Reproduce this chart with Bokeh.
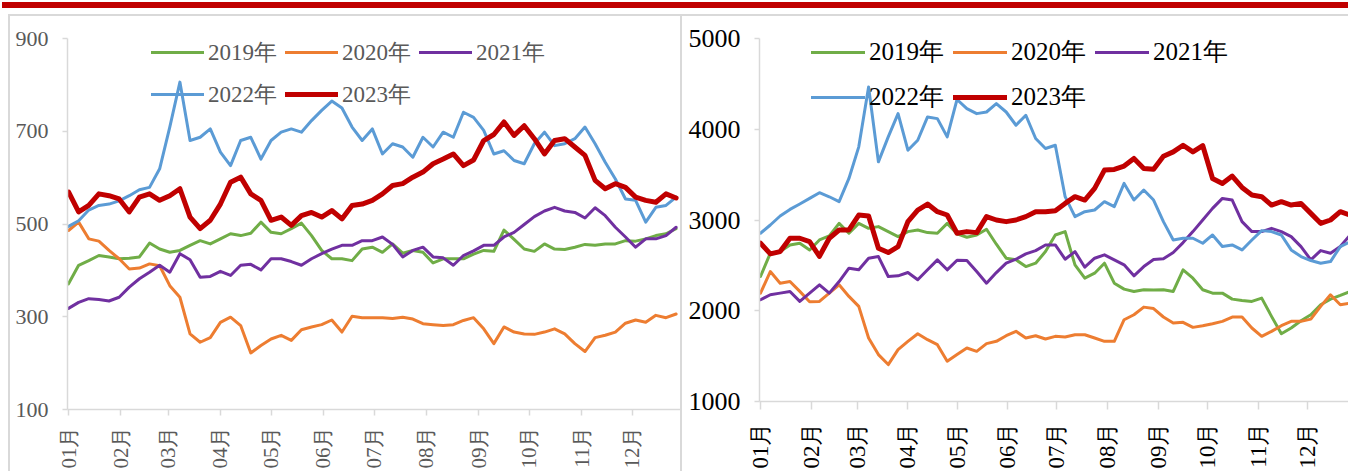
from bokeh.plotting import figure
from bokeh.models import Range1d, FixedTicker, Legend, LegendItem, Div
from bokeh.layouts import row, column
from bokeh.embed import file_html
from bokeh.resources import INLINE

# ---------------- data ----------------
days = [1, 7, 13, 19, 25, 31, 37, 43, 49, 55, 61, 67, 73, 79, 85, 91, 97, 103, 109, 115, 121,
        127, 133, 139, 145, 151, 157, 163, 169, 175, 181, 187, 193, 199, 205, 211, 217, 223, 229, 235, 241,
        247, 253, 259, 265, 271, 277, 283, 289, 295, 301, 307, 313, 319, 325, 331, 337, 343, 349, 355, 361]

month_days = [1, 32, 60, 91, 121, 152, 182, 213, 244, 274, 305, 335]
month_labels = ["01月", "02月", "03月", "04月", "05月", "06月", "07月", "08月", "09月", "10月", "11月", "12月"]

years = ["2019年", "2020年", "2021年", "2022年", "2023年"]
colors = ["#70AD47", "#ED7D31", "#7030A0", "#5B9BD5", "#C00000"]

left_2019 = [371, 411, 421, 432, 429, 425, 426, 429, 459, 446, 439, 443, 454, 464, 457, 468, 479, 475, 480, 504, 482,
             479, 490, 502, 475, 443, 425, 425, 421, 446, 450, 439, 457, 437, 443, 439, 416, 425, 425, 425, 435,
             443, 441, 487, 467, 446, 441, 457, 446, 445, 450, 456, 454, 457, 457, 464, 463, 468, 475, 479, 490]
left_2020 = [486, 504, 468, 463, 443, 425, 403, 405, 414, 410, 367, 342, 263, 245, 255, 288, 299, 281, 222, 238, 252,
             260, 249, 272, 278, 283, 293, 267, 301, 298, 298, 298, 296, 299, 295, 285, 283, 281, 283, 292, 298,
             274, 242, 278, 267, 263, 262, 267, 274, 263, 242, 225, 255, 260, 267, 286, 293, 288, 303, 298, 306]
left_2021 = [318, 331, 339, 337, 334, 342, 364, 382, 396, 411, 396, 436, 423, 385, 387, 398, 389, 411, 413, 401, 425,
             425, 419, 411, 425, 436, 446, 454, 454, 464, 464, 472, 456, 429, 443, 450, 429, 427, 411, 432, 442,
             454, 454, 472, 482, 499, 516, 528, 536, 528, 525, 513, 535, 518, 493, 472, 450, 468, 468, 475, 493]
left_2022 = [495, 507, 530, 540, 543, 550, 561, 574, 579, 619, 709, 806, 680, 687, 705, 655, 626, 680, 687, 640, 680,
             698, 705, 698, 723, 745, 765, 750, 709, 680, 705, 651, 673, 666, 644, 687, 666, 698, 687, 741, 730,
             702, 651, 658, 637, 630, 673, 698, 669, 673, 684, 709, 673, 633, 597, 554, 551, 504, 536, 540, 558]
left_2023 = [569, 526, 540, 565, 561, 554, 526, 558, 565, 551, 561, 576, 515, 490, 508, 543, 590, 601, 565, 551, 508,
             515, 497, 518, 525, 515, 529, 511, 540, 543, 551, 565, 583, 587, 601, 612, 630, 640, 651, 626, 638,
             680, 693, 720, 691, 712, 684, 651, 680, 684, 666, 648, 594, 576, 587, 579, 558, 551, 547, 565, 556]

right_2019 = [2377, 2634, 2652, 2725, 2744, 2670, 2780, 2824, 2963, 2854, 2963, 2908, 2927, 2872, 2817, 2872, 2890, 2861, 2854, 2963, 2848,
              2810, 2835, 2898, 2733, 2579, 2561, 2487, 2524, 2652, 2835, 2872, 2506, 2359, 2414, 2524, 2304, 2238, 2213, 2231, 2228,
              2231, 2213, 2451, 2359, 2231, 2194, 2194, 2128, 2114, 2103, 2139, 1938, 1747, 1810, 1890, 1956, 2066, 2128, 2169, 2213]
right_2020 = [2194, 2432, 2304, 2322, 2213, 2100, 2103, 2194, 2286, 2158, 2048, 1700, 1517, 1407, 1572, 1663, 1747, 1681, 1626, 1443, 1517,
              1590, 1553, 1638, 1663, 1725, 1773, 1700, 1725, 1689, 1718, 1711, 1736, 1736, 1700, 1663, 1663, 1901, 1956, 2040, 2024,
              1931, 1865, 1872, 1817, 1835, 1857, 1883, 1931, 1931, 1810, 1718, 1773, 1835, 1883, 1883, 1908, 2048, 2176, 2066, 2084]
right_2021 = [2121, 2176, 2194, 2212, 2103, 2194, 2286, 2194, 2322, 2469, 2451, 2579, 2597, 2377, 2385, 2421, 2341, 2451, 2561, 2451, 2557,
              2553, 2432, 2304, 2421, 2524, 2568, 2627, 2663, 2725, 2725, 2568, 2652, 2480, 2579, 2616, 2561, 2506, 2385, 2487, 2565,
              2572, 2642, 2751, 2872, 2999, 3128, 3238, 3220, 2982, 2872, 2872, 2908, 2872, 2817, 2707, 2561, 2663, 2634, 2707, 2835]
right_2022 = [2854, 2945, 3044, 3117, 3176, 3238, 3301, 3256, 3202, 3458, 3806, 4465, 3641, 3916, 4172, 3769, 3879, 4136, 4117, 3916, 4328,
              4227, 4172, 4190, 4282, 4190, 4044, 4154, 3898, 3788, 3824, 3257, 3037, 3092, 3110, 3202, 3147, 3403, 3220, 3330, 3220,
              2982, 2780, 2799, 2799, 2744, 2835, 2707, 2725, 2670, 2780, 2883, 2872, 2835, 2670, 2597, 2553, 2524, 2542, 2707, 2760]
right_2023 = [2744, 2627, 2652, 2799, 2799, 2762, 2600, 2799, 2890, 2890, 3055, 3044, 2689, 2641, 2707, 2982, 3110, 3176, 3092, 3055, 2854,
              2872, 2861, 3037, 3000, 2982, 3000, 3037, 3092, 3092, 3103, 3183, 3257, 3220, 3348, 3550, 3557, 3594, 3678, 3568, 3559,
              3703, 3751, 3824, 3751, 3820, 3458, 3403, 3484, 3359, 3275, 3257, 3165, 3202, 3165, 3183, 3073, 2963, 3000, 3092, 3055]

left_series = [left_2019, left_2020, left_2021, left_2022, left_2023]
right_series = [right_2019, right_2020, right_2021, right_2022, right_2023]
left_yticks = [100, 300, 500, 700, 900]
right_yticks = [1000, 2000, 3000, 4000, 5000]

FONT = "Liberation Serif"
TOP_H = 16
FIG_H = 471 - TOP_H


def make_panel(series, width, border_left, border_bottom, x_end, y_lo, y_hi, yticks, tick_size, x_size,
               text_color, legend_size, leg_vx, leg_vy1, leg_vy2, x_standoff, x_tick_out, spacing, glyph_w):
    p = figure(width=width, height=FIG_H, output_backend="svg", toolbar_location=None,
               x_range=Range1d(0.4, x_end), y_range=Range1d(y_lo, y_hi),
               min_border_left=border_left, min_border_right=0,
               min_border_top=22, min_border_bottom=border_bottom)
    p.outline_line_color = None
    p.grid.visible = False
    p.background_fill_color = "white"
    p.border_fill_color = "white"

    renderers = []
    for i, vals in enumerate(series):
        r = p.line(days, vals, line_color=colors[i], line_width=5 if i == 4 else 3,
                   line_join="round", line_cap="round")
        renderers.append(r)

    for ax in (p.xaxis[0], p.yaxis[0]):
        ax.axis_line_color = "#D9D9D9"
        ax.axis_line_width = 1.5
        ax.major_tick_line_color = "#D9D9D9"
        ax.major_tick_line_width = 1.5
        ax.major_tick_in = 0
        ax.minor_tick_line_color = None
        ax.major_label_text_font = FONT
        ax.major_label_text_color = text_color

    p.yaxis.ticker = FixedTicker(ticks=yticks)
    p.yaxis.major_tick_out = 5
    p.yaxis.major_label_standoff = 14
    p.yaxis.major_label_text_font_size = f"{tick_size}px"

    p.xaxis.ticker = FixedTicker(ticks=month_days)
    p.xaxis.major_label_overrides = {d: lab for d, lab in zip(month_days, month_labels)}
    p.xaxis.major_label_orientation = 3.14159265 / 2
    p.xaxis.major_tick_out = x_tick_out
    p.xaxis.major_label_standoff = x_standoff
    p.xaxis.major_label_text_font_size = f"{x_size}px"

    rows = [(renderers[:3], years[:3], leg_vy1), (renderers[3:], years[3:], leg_vy2)]
    for rs, labs, vy in rows:
        leg = Legend(items=[LegendItem(label=lab, renderers=[r]) for lab, r in zip(labs, rs)],
                     location=(leg_vx, vy), orientation="horizontal")
        leg.label_text_font = FONT
        leg.label_text_font_size = f"{legend_size}px"
        leg.label_text_color = text_color
        leg.glyph_width = glyph_w
        leg.glyph_height = 32
        leg.label_height = 32
        leg.label_standoff = 4
        leg.spacing = spacing
        leg.padding = 0
        leg.margin = 0
        leg.border_line_color = None
        leg.background_fill_alpha = 0
        p.add_layout(leg)
    return p


# left panel: canvas x 10..680, frame 67..680, y 900->38, 100->409
p1 = make_panel(left_series, 670, 57, 471 - 409, 363.6, 100, 900, left_yticks, 22, 21, "#595959", 23,
                84, 341, 299, 11, 6, 8, 53)
# right panel: canvas x 682..1348, frame 759..1348, y 5000->38, 1000->402
p2 = make_panel(right_series, 666, 77, 471 - 402, 360.0, 1000, 5000, right_yticks, 26, 23, "#000000", 25,
                52, 333, 288, 13, 8, 9, 54)

top_bar = Div(text='<div style="height:2px"></div>'
                   '<div style="height:6px;margin-left:2px;width:1346px;background:#C00000"></div>'
                   '<div style="height:6px"></div>'
                   '<div style="height:2px;margin-left:8px;width:1340px;background:#D9D9D9"></div>',
              width=1348, height=TOP_H, margin=0)
spacer = Div(text="", width=8, height=FIG_H, margin=0)
vline1 = Div(text="", width=2, height=FIG_H, margin=0, styles={"background-color": "#D9D9D9"})
vline2 = Div(text="", width=2, height=FIG_H, margin=0, styles={"background-color": "#D9D9D9"})

layout = column(top_bar,
                row(spacer, vline1, column(p1, spacing=0), vline2, column(p2, spacing=0), spacing=0),
                spacing=0)

open("out.html", "w").write(file_html(layout, INLINE))
